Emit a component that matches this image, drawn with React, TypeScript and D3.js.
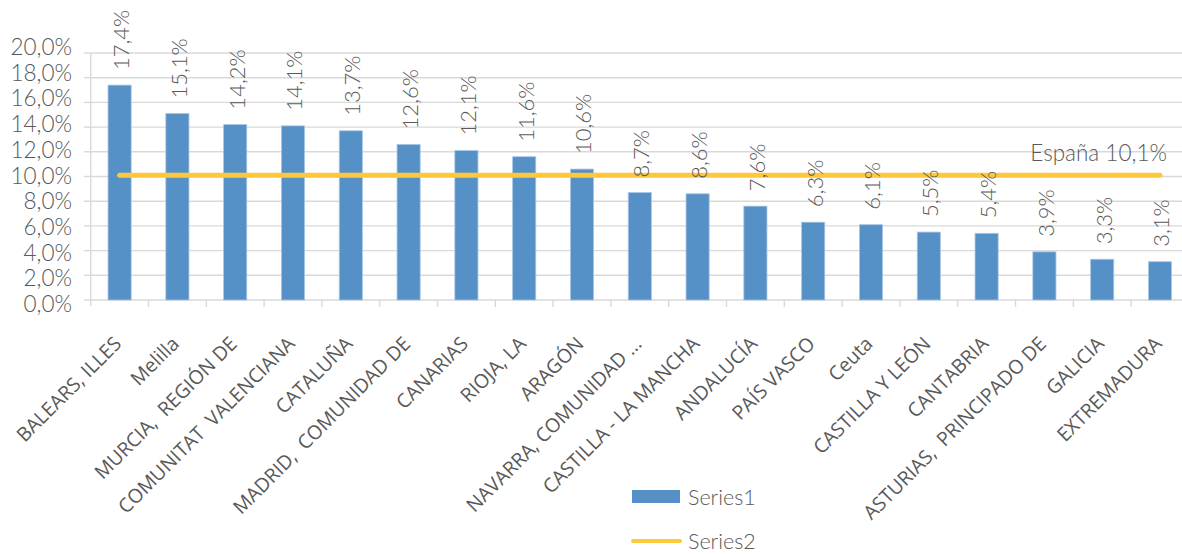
import React from "react";
import * as d3 from "d3";

const categories: string[] = [
  "BALEARS, ILLES",
  "Melilla",
  "MURCIA,  REGIÓN DE",
  "COMUNITAT  VALENCIANA",
  "CATALUÑA",
  "MADRID,  COMUNIDAD DE",
  "CANARIAS",
  "RIOJA, LA",
  "ARAGÓN",
  "NAVARRA, COMUNIDAD ...",
  "CASTILLA - LA MANCHA",
  "ANDALUCÍA",
  "PAÍS VASCO",
  "Ceuta",
  "CASTILLA Y LEÓN",
  "CANTABRIA",
  "ASTURIAS,  PRINCIPADO DE",
  "GALICIA",
  "EXTREMADURA",
];
const series1: number[] = [17.4, 15.1, 14.2, 14.1, 13.7, 12.6, 12.1, 11.6, 10.6, 8.7, 8.6, 7.6, 6.3, 6.1, 5.5, 5.4, 3.9, 3.3, 3.1];
const series2Value = 10.1;
const spainLabel = "España 10,1%";
const yTicks: number[] = [0, 2, 4, 6, 8, 10, 12, 14, 16, 18, 20];
const legendItems: string[] = ["Series1", "Series2"];

const W = 1182;
const H = 554;
const BAR = "#5590C6";
const GOLD = "#FFC83A";
const TXT = "#595959";
const GRID = "#D9D9D9";
const VFONT = "Lato, 'DejaVu Sans', sans-serif";
const XFONT = "'Open Sans', 'Noto Sans', sans-serif";

const fmt = (v: number) => v.toFixed(1).replace(".", ",") + "%";

export default function App() {
  const x = d3
    .scaleBand<string>()
    .domain(categories)
    .range([90.7, 90.7 + 19 * 57.8])
    .paddingInner(0.6)
    .paddingOuter(0.3);
  const y = d3.scaleLinear().domain([0, 20]).range([300, 53]);
  const yLab = d3.scaleLinear().domain([0, 20]).range([312, 55]);
  const cx = (c: string) => (x(c) as number) + x.bandwidth() / 2;
  const x0 = 90.7;
  const x1 = W + 10;

  const line = d3
    .line<number>()
    .x((_, i) => cx(categories[i]))
    .y((d) => y(d));
  const lineData = categories.map(() => series2Value);

  return (
    <svg
      width={W}
      height={H}
      style={{ position: "absolute", left: 0, top: 0, background: "#fff" }}
    >
      {yTicks.map((t) => (
        <line key={"g" + t} x1={x0} x2={x1} y1={y(t)} y2={y(t)} stroke={GRID} strokeWidth={1.4} />
      ))}
      <line x1={x0} x2={x0} y1={y(20)} y2={y(0) + 6} stroke={GRID} strokeWidth={1.4} />
      {yTicks.map((t) => (
        <line key={"yt" + t} x1={x0 - 7} x2={x0} y1={y(t)} y2={y(t)} stroke={GRID} strokeWidth={1.4} />
      ))}
      {categories.map((c) => (
        <line
          key={"xt" + c}
          x1={cx(c) + x.step() / 2}
          x2={cx(c) + x.step() / 2}
          y1={y(0)}
          y2={y(0) + 7}
          stroke={GRID}
          strokeWidth={1.4}
        />
      ))}
      {yTicks.map((t) => (
        <text
          key={"yl" + t}
          x={72}
          y={yLab(t)}
          textAnchor="end"
          fontFamily={VFONT}
          fontWeight={300}
          fontSize={22.5}
          fill={TXT}
        >
          {fmt(t)}
        </text>
      ))}
      {categories.map((c, i) => (
        <rect
          key={"b" + c}
          x={x(c)}
          y={y(series1[i])}
          width={x.bandwidth()}
          height={y(0) - y(series1[i])}
          fill={BAR}
          stroke="#A8C6E6"
          strokeWidth={0.8}
        />
      ))}
      <path d={line(lineData) || ""} fill="none" stroke={GOLD} strokeWidth={5} strokeLinecap="round" />
      {categories.map((c, i) => {
        const px = cx(c) + 1.5;
        const py = y(series1[i]) - 15;
        return (
          <text
            key={"v" + c}
            transform={`translate(${px},${py}) rotate(-90)`}
            dy="0.36em"
            textAnchor="start"
            fontFamily={VFONT}
            fontWeight={300}
            fontSize={22}
            fill={TXT}
          >
            {fmt(series1[i])}
          </text>
        );
      })}
      <text x={1167} y={161} textAnchor="end" fontFamily={VFONT} fontWeight={300} fontSize={22.5} fill={TXT}>
        {spainLabel}
      </text>
      {categories.map((c) => (
        <text
          key={"xl" + c}
          transform={`translate(${cx(c) + 3},${345}) rotate(-45)`}
          textAnchor="end"
          fontFamily={XFONT}
          fontSize={19.5}
          fill={TXT}
          style={{ whiteSpace: "pre" }}
        >
          {c}
        </text>
      ))}
      <rect x={632} y={490} width={48} height={13} fill={BAR} />
      <text x={688} y={505} fontFamily={VFONT} fontWeight={300} fontSize={21.5} fill={TXT}>
        {legendItems[0]}
      </text>
      <line x1={633} x2={680} y1={541} y2={541} stroke={GOLD} strokeWidth={4} strokeLinecap="round" />
      <text x={688} y={549} fontFamily={VFONT} fontWeight={300} fontSize={21.5} fill={TXT}>
        {legendItems[1]}
      </text>
    </svg>
  );
}
